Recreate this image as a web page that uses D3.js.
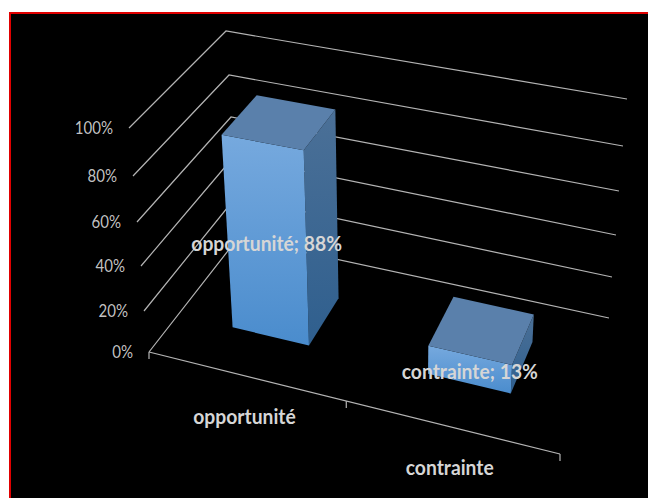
<!DOCTYPE html>
<html lang="fr">
<head>
<meta charset="utf-8">
<title>opportunité / contrainte</title>
<script src="https://cdn.jsdelivr.net/npm/d3@7/dist/d3.min.js"></script>
<style>
  html, body { margin: 0; padding: 0; background: #fff; }
  svg { display: block; }
  text { font-family: Lato, "Open Sans", sans-serif; fill: #d6d6d6; }
</style>
</head>
<body>
<script>
// Chart data
const categories = ["opportunité", "contrainte"];
const values = [88, 13];
const valueTicks = [0, 20, 40, 60, 80, 100];

const width = 648, height = 498;

// Pixel tracks of the value axis along the four vertical edges of the 3D box.
const frontLeftX = [149, 144, 141, 137, 133, 129];
const frontLeftY = [352, 311, 266, 222, 176, 128];
const backLeftX = [238, 236, 233.5, 231, 229, 226];
const backLeftY = [238, 197, 157, 117, 75, 31];
const backRightX = [609, 612, 616, 619, 623, 627];
const backRightY = [318, 277, 235, 191, 146, 99];
const frontRightX = [560, 563, 566, 570, 573, 577];
const frontRightY = [454, 408, 360, 310, 262, 210];

const edge = r => d3.scaleLinear().domain(valueTicks).range(r);
const fl = [edge(frontLeftX), edge(frontLeftY)];
const bl = [edge(backLeftX), edge(backLeftY)];
const br = [edge(backRightX), edge(backRightY)];
const fr = [edge(frontRightX), edge(frontRightY)];

// Category position along the floor, foreshortened at the midpoint.
const along = d3.scaleLinear().domain([0, 0.5, 1]).range([0, 0.48, 1]);
const band = d3.scaleBand().domain(categories).range([-0.008, 0.992])
  .paddingInner(0.6).paddingOuter(0.3);
const depth = d3.scaleLinear().domain([0, 1]).range([0.33, 0.72]);

// Projects (u along the categories, d into the depth, v in percent) to the page.
function project(u, d, v) {
  const a = along(u);
  return [0, 1].map(i => {
    const front = d3.interpolateNumber(fl[i](v), fr[i](v))(a);
    const back = d3.interpolateNumber(bl[i](v), br[i](v))(a);
    return d3.interpolateNumber(front, back)(d);
  });
}

const svg = d3.select("body").append("svg")
  .attr("width", width).attr("height", height);

const defs = svg.append("defs");
function gradient(id, top, bottom) {
  const g = defs.append("linearGradient").attr("id", id)
    .attr("x1", 0).attr("y1", 0).attr("x2", 0).attr("y2", 1);
  g.append("stop").attr("offset", 0).attr("stop-color", top);
  g.append("stop").attr("offset", 1).attr("stop-color", bottom);
}
gradient("frontFace", "#76a9de", "#4a8ccd");
gradient("sideFace", "#4b7097", "#2f5f8e");

// Chart area with its red top and left rules
svg.append("rect").attr("x", 9).attr("y", 12)
  .attr("width", width - 9).attr("height", height - 12).attr("fill", "#000");
svg.append("path").attr("d", `M10 ${height}V13H${width}`)
  .attr("fill", "none").attr("stroke", "#e00000").attr("stroke-width", 2);

// Gridlines on the side and back walls
const line = d3.line();
svg.append("g").selectAll("path").data(valueTicks).join("path")
  .attr("d", v => line([
    [fl[0](v), fl[1](v)],
    [bl[0](v), bl[1](v)],
    [br[0](v), br[1](v)]
  ]))
  .attr("fill", "none").attr("stroke", "#b4b4b4").attr("stroke-width", 1.2);

// Category axis along the front of the floor
const floorFront = u => project(u, 0, 0);
const axisG = svg.append("g").attr("fill", "none").attr("stroke", "#b4b4b4").attr("stroke-width", 1.2);
axisG.append("path").attr("d", line([floorFront(0), floorFront(1)]));
axisG.selectAll("path.tick").data([0, 0.5, 1]).join("path").attr("class", "tick")
  .attr("d", u => {
    const [x, y] = floorFront(u);
    return line([[x, y], [x, y + 7]]);
  });

// Value axis labels, condensed horizontally
svg.append("g").selectAll("text").data(valueTicks).join("text")
  .attr("transform", v => `translate(${fl[0](v) - 16},${fl[1](v)}) scale(0.86,1)`)
  .attr("dy", "0.35em")
  .attr("text-anchor", "end")
  .attr("font-size", 17.5)
  .attr("fill-opacity", 0.92)
  .text(v => v + "%");

// Bars, one box per category
const bars = categories.map((c, i) => ({
  name: c,
  value: values[i],
  u0: band(c),
  u1: band(c) + band.bandwidth()
}));

const poly = pts => "M" + pts.map(p => p.join(",")).join("L") + "Z";
const barG = svg.append("g").selectAll("g").data(bars).join("g");

barG.append("path").attr("fill", "url(#sideFace)")
  .attr("d", b => poly([
    project(b.u1, depth(0), b.value), project(b.u1, depth(1), b.value),
    project(b.u1, depth(1), 0), project(b.u1, depth(0), 0)
  ]));
barG.append("path").attr("fill", "url(#frontFace)")
  .attr("d", b => poly([
    project(b.u0, depth(0), b.value), project(b.u1, depth(0), b.value),
    project(b.u1, depth(0), 0), project(b.u0, depth(0), 0)
  ]));
barG.append("path").attr("fill", "#5a80ab")
  .attr("d", b => poly([
    project(b.u0, depth(0), b.value), project(b.u0, depth(1), b.value),
    project(b.u1, depth(1), b.value), project(b.u1, depth(0), b.value)
  ]));

// Data labels centred on each front face
svg.append("g").selectAll("text").data(bars).join("text")
  .attr("transform", b => {
    const p = project((b.u0 + b.u1) / 2, depth(0), b.value / 2);
    return `translate(${p[0]},${p[1] + 2}) scale(0.92,1)`;
  })
  .attr("dy", "0.35em")
  .attr("text-anchor", "middle")
  .attr("font-size", 21)
  .attr("font-weight", 700)
  .text(b => `${b.name}; ${b.value}%`);

// Category labels under the floor
svg.append("g").selectAll("text").data(bars).join("text")
  .attr("transform", b => {
    const [x, y] = floorFront((b.u0 + b.u1) / 2);
    return `translate(${x},${y + 41}) scale(0.92,1)`;
  })
  .attr("dy", "0.35em")
  .attr("text-anchor", "middle")
  .attr("font-size", 21)
  .attr("font-weight", 700)
  .text(b => b.name);
</script>
</body>
</html>
